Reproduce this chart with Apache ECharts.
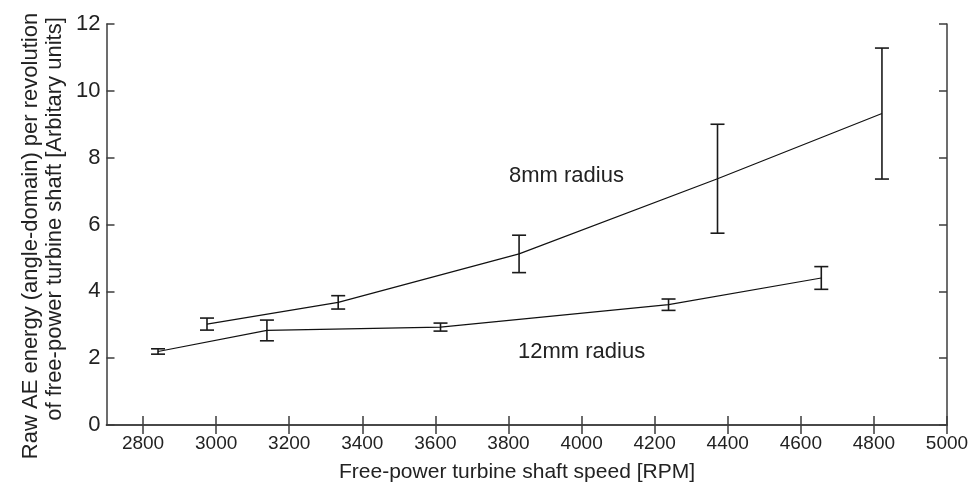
<!DOCTYPE html>
<html>
<head>
<meta charset="utf-8">
<script src="https://cdn.jsdelivr.net/npm/echarts@6/dist/echarts.min.js"></script>
<style>
html,body{margin:0;padding:0;background:#fff;}
#chart{width:974px;height:490px;}
</style>
</head>
<body>
<div id="chart"></div>
<script>
// ---- data ----
const rpm8 = [2975, 3334, 3829, 4372, 4822];
const mean8 = [3.02, 3.67, 5.12, 7.37, 9.32];
const err8 = [0.18, 0.20, 0.56, 1.63, 1.96];

const rpm12 = [2841, 3139, 3614, 4238, 4656];
const mean12 = [2.20, 2.83, 2.93, 3.60, 4.40];
const err12 = [0.08, 0.31, 0.12, 0.17, 0.34];

const xTicks = [2800, 3000, 3200, 3400, 3600, 3800, 4000, 4200, 4400, 4600, 4800, 5000];
const yTicks = [0, 2, 4, 6, 8, 10, 12];

const label8 = '8mm radius';
const label12 = '12mm radius';
const xTitle = 'Free-power turbine shaft speed [RPM]';
const yTitle1 = 'Raw AE energy (angle-domain) per revolution';
const yTitle2 = 'of free-power turbine shaft [Arbitary units]';

// ---- build ----
const FONT = 'Liberation Sans, Arial, sans-serif';
const AXC = '#3c3c3c';

function pairs(xs, ys) { return xs.map((x, i) => [x, ys[i]]); }
function errRows(xs, ys, es) { return xs.map((x, i) => [x, ys[i] - es[i], ys[i] + es[i]]); }

function errorRender(params, api) {
  const x = api.value(0);
  const lo = api.coord([x, api.value(1)]);
  const hi = api.coord([x, api.value(2)]);
  const hw = 7;
  const st = { stroke: '#1a1a1a', lineWidth: 1.6 };
  return {
    type: 'group',
    children: [
      { type: 'line', shape: { x1: lo[0], y1: lo[1], x2: hi[0], y2: hi[1] }, style: st },
      { type: 'line', shape: { x1: lo[0] - hw, y1: lo[1], x2: lo[0] + hw, y2: lo[1] }, style: st },
      { type: 'line', shape: { x1: hi[0] - hw, y1: hi[1], x2: hi[0] + hw, y2: hi[1] }, style: st }
    ]
  };
}

const xMin = 2700, xMax = 5000;
const baseX = {
  type: 'value', min: xMin, max: xMax,
  axisLine: { show: true, lineStyle: { color: AXC, width: 1.5 } },
  axisTick: { show: true, inside: true, length: 9, lineStyle: { color: AXC, width: 1.5 }, customValues: xTicks },
  splitLine: { show: false }
};
const baseY = {
  type: 'value', min: 0, max: 12, interval: 2,
  axisLine: { show: true, lineStyle: { color: AXC, width: 1.5 } },
  axisTick: { show: true, inside: true, length: 8, lineStyle: { color: AXC, width: 1.5 } },
  splitLine: { show: false }
};

const option = {
  backgroundColor: '#ffffff',
  animation: false,
  grid: { left: 106.5, right: 27, top: 24, bottom: 65 },
  xAxis: [
    Object.assign({}, baseX, {
      position: 'bottom',
      axisLabel: { show: true, customValues: xTicks, margin: 9, fontSize: 19, fontFamily: FONT, color: '#222',
        formatter: v => String(v) }
    }),
    Object.assign({}, baseX, { position: 'top', axisLabel: { show: false } })
  ],
  yAxis: [
    Object.assign({}, baseY, {
      position: 'left',
      axisLabel: { show: true, margin: 6, fontSize: 22, fontFamily: FONT, color: '#222',
        formatter: v => (yTicks.indexOf(v) >= 0 ? String(v) : '') }
    }),
    Object.assign({}, baseY, { position: 'right', axisLabel: { show: false } })
  ],
  series: [
    { type: 'line', data: pairs(rpm8, mean8), showSymbol: false, lineStyle: { color: '#111', width: 1.2 }, silent: true },
    { type: 'line', data: pairs(rpm12, mean12), showSymbol: false, lineStyle: { color: '#111', width: 1.2 }, silent: true },
    { type: 'custom', renderItem: errorRender, data: errRows(rpm8, mean8, err8), silent: true },
    { type: 'custom', renderItem: errorRender, data: errRows(rpm12, mean12, err12), silent: true }
  ],
  graphic: [
    { type: 'text', left: 509, top: 165, style: { text: label8, fontSize: 22, fontFamily: FONT, fill: '#222' } },
    { type: 'text', left: 518, top: 341, style: { text: label12, fontSize: 22, fontFamily: FONT, fill: '#222' } },
    { type: 'text', x: 517, y: 472, style: { text: xTitle, fontSize: 21, fontFamily: FONT, fill: '#222', align: 'center', verticalAlign: 'middle' } },
    { type: 'text', x: 31, y: 236, rotation: Math.PI / 2, style: { text: yTitle1, fontSize: 22, fontFamily: FONT, fill: '#222', align: 'center', verticalAlign: 'middle' } },
    { type: 'text', x: 55, y: 219, rotation: Math.PI / 2, style: { text: yTitle2, fontSize: 22, fontFamily: FONT, fill: '#222', align: 'center', verticalAlign: 'middle' } }
  ]
};

const chart = echarts.init(document.getElementById('chart'), null, { renderer: 'canvas' });
chart.setOption(option);
</script>
</body>
</html>
